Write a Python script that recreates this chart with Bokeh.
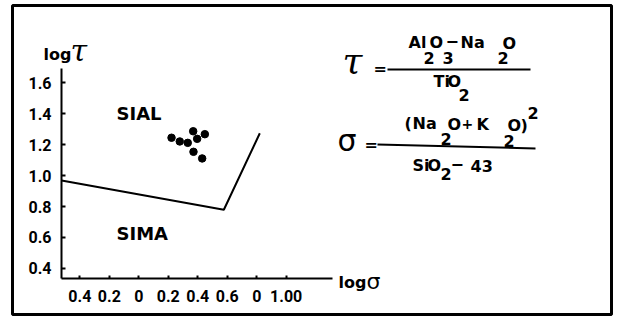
from bokeh.plotting import figure
from bokeh.models import FixedTicker, Label, ColumnDataSource
from bokeh.core.properties import value
from bokeh.embed import file_html
from bokeh.resources import INLINE

# ---------------- data ----------------
sample_log_sigma = [0.222, 0.278, 0.332, 0.369, 0.396, 0.448, 0.371, 0.430]
sample_log_tau = [1.245, 1.221, 1.212, 1.287, 1.238, 1.268, 1.154, 1.111]
boundary_log_sigma = [-0.524, 0.577, 0.821]
boundary_log_tau = [0.968, 0.779, 1.274]
x_ticks = [-0.4, -0.2, 0.0, 0.2, 0.4, 0.6, 0.8, 1.0]
x_tick_labels = ["0.4", "0.2", "0", "0.2", "0.4", "0.6", "0", "1.00"]
y_ticks = [0.4, 0.6, 0.8, 1.0, 1.2, 1.4, 1.6]
y_tick_labels = ["0.4", "0.6", "0.8", "1.0", "1.2", "1.4", "1.6"]
field_names = ["SIAL", "SIMA"]

# ---------------- layout helpers (page pixel -> data) ----------------
X0_PX, X_SCALE = 138.3, 147.4
Y1_PX, Y_SCALE = 175.1, 154.5


def px2x(px):
    return (px - X0_PX) / X_SCALE


def px2y(py):
    return 1 - (py - Y1_PX) / Y_SCALE


FONT = "DejaVu Sans"
TICK_FONT = "Roboto"
FL, FR, FT, FB = 12, 611, 5, 314   # frame edges on the page

p = figure(width=614, height=318, output_backend="svg", toolbar_location=None,
           x_range=(px2x(FL), px2x(FR)), y_range=(px2y(FB), px2y(FT)),
           min_border_left=FL, min_border_right=614 - FR, min_border_top=FT,
           min_border_bottom=318 - FB)
p.grid.visible = False
p.outline_line_color = "black"
p.outline_line_width = 3
p.background_fill_color = "white"
p.border_fill_color = "white"

xa = p.xaxis[0]
ya = p.yaxis[0]
xa.fixed_location = px2y(277.5)
ya.fixed_location = px2x(61)
xa.ticker = FixedTicker(ticks=x_ticks)
xa.major_label_overrides = {t: l for t, l in zip(x_ticks, x_tick_labels)}
ya.ticker = FixedTicker(ticks=y_ticks)
ya.major_label_overrides = {t: l for t, l in zip(y_ticks, y_tick_labels)}
xa.bounds = (px2x(61), px2x(332))
ya.bounds = (px2y(277.5), px2y(68))
for ax in (xa, ya):
    ax.axis_line_width = 2
    ax.axis_line_color = "black"
    ax.major_tick_line_width = 2
    ax.major_tick_line_color = "black"
    ax.major_tick_in = 4
    ax.major_tick_out = 0
    ax.minor_tick_line_color = None
    ax.major_label_text_font = TICK_FONT
    ax.major_label_text_font_style = "bold"
    ax.major_label_text_font_size = "16px"
    ax.major_label_text_color = "black"
xa.major_tick_in = 3
xa.major_label_standoff = 12
ya.major_label_standoff = 10

# boundary line and samples
p.line(boundary_log_sigma, boundary_log_tau, line_color="black", line_width=2)
p.scatter(sample_log_sigma, sample_log_tau, size=7.5, fill_color="black",
          line_color="black")

# field names
p.text(x=[px2x(116), px2x(116)], y=[px2y(113), px2y(233)], text=field_names,
       text_font=value(FONT), text_font_style="bold", text_font_size="18px",
       text_baseline="middle", text_align="left", text_color="black")

# formulas (text tokens: text, left px, centre px, size, style, font)
tokens = [
    ("τ", 342, 60, "36px", "italic", "DejaVu Serif"),
    ("=", 373, 68, "16px", "bold", FONT),
    ("Al", 408, 42, "16px", "bold", FONT),
    ("2", 423, 57, "16px", "bold", FONT),
    ("O", 429, 42, "16px", "bold", FONT),
    ("3", 442, 57, "16px", "bold", FONT),
    ("−", 445, 40, "16px", "bold", FONT),
    ("Na", 460, 42, "16px", "bold", FONT),
    ("2", 497, 57, "16px", "bold", FONT),
    ("O", 502, 43, "16px", "bold", FONT),
    ("Ti", 433, 81, "16px", "bold", FONT),
    ("O", 447, 81, "16px", "bold", FONT),
    ("2", 458, 94, "16px", "bold", FONT),
    ("σ", 337, 140, "30px", "normal", FONT),
    ("=", 364, 144, "16px", "bold", FONT),
    ("(", 404, 123, "16px", "bold", FONT),
    ("Na", 412, 123, "16px", "bold", FONT),
    ("2", 440, 138, "16px", "bold", FONT),
    ("O", 447, 124, "16px", "bold", FONT),
    ("+", 461, 123, "14px", "bold", FONT),
    ("K", 476, 124, "16px", "bold", FONT),
    ("2", 503, 140, "16px", "bold", FONT),
    ("O", 507, 125, "16px", "bold", FONT),
    (")", 520, 125, "16px", "bold", FONT),
    ("2", 527, 112, "16px", "bold", FONT),
    ("Si", 412, 165, "16px", "bold", FONT),
    ("O", 427, 165, "16px", "bold", FONT),
    ("2", 440, 173, "16px", "bold", FONT),
    ("−", 450, 163, "16px", "bold", FONT),
    ("43", 470, 165, "16px", "bold", FONT),
]
tok_src = ColumnDataSource(dict(
    x=[px2x(t[1]) for t in tokens], y=[px2y(t[2]) for t in tokens],
    text=[t[0] for t in tokens], size=[t[3] for t in tokens],
    style=[t[4] for t in tokens], font=[t[5] for t in tokens]))
p.text(x="x", y="y", text="text", text_font_size="size", text_font_style="style",
       text_font="font", text_align="left", text_baseline="middle",
       text_color="black", source=tok_src)

# fraction bars
p.segment(x0=[px2x(387), px2x(377)], y0=[px2y(69), px2y(144)],
          x1=[px2x(530), px2x(535)], y1=[px2y(69), px2y(148)],
          line_color="black", line_width=2)

# axis titles
for txt, xp, yp, size, style, font in [
        ("log", 43, 54, "16px", "bold", FONT),
        ("τ", 70, 50, "30px", "italic", "DejaVu Serif"),
        ("log", 338, 282, "16px", "bold", FONT),
        ("σ", 366, 281, "22px", "normal", FONT)]:
    p.add_layout(Label(x=px2x(xp), y=px2y(yp), text=txt, text_font=font,
                       text_font_size=size, text_font_style=style,
                       text_baseline="middle", text_align="left",
                       text_color="black"))

open("out.html", "w").write(file_html(p, INLINE))
